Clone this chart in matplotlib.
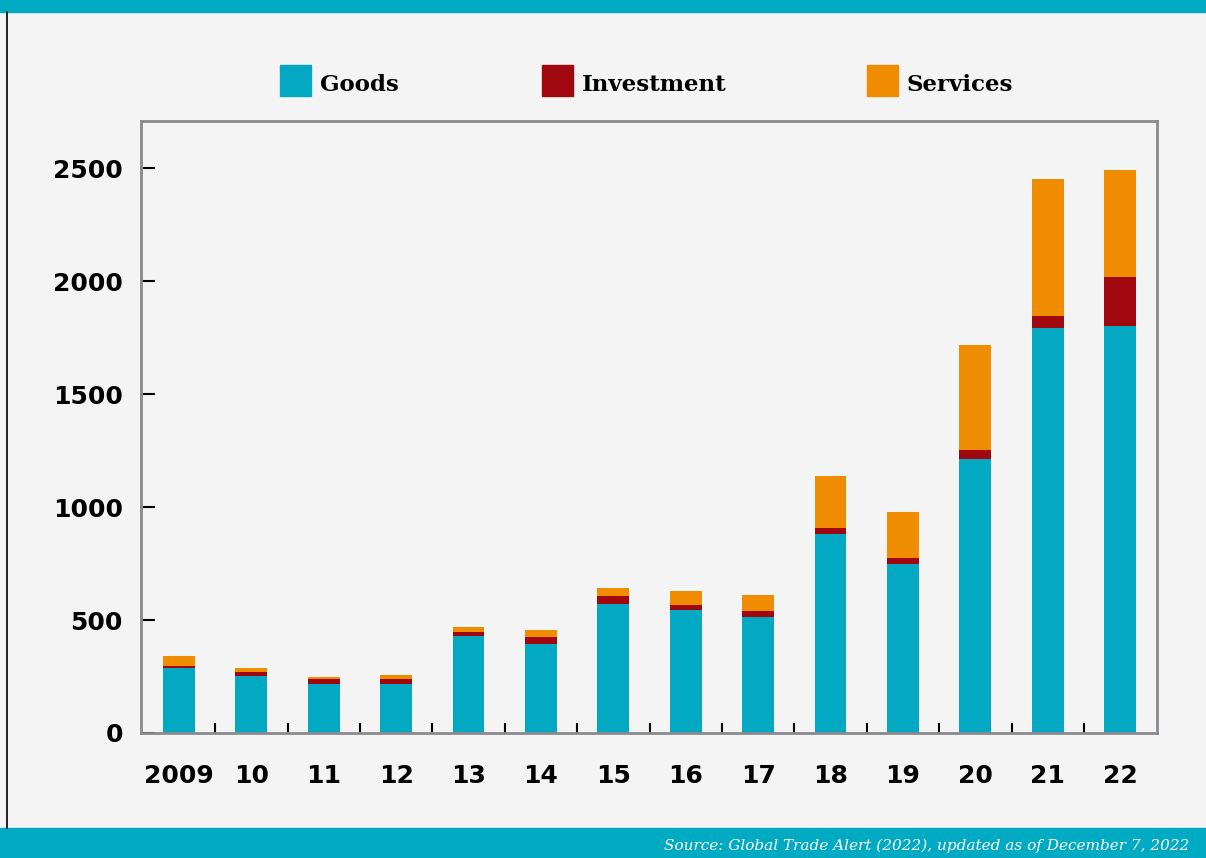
import matplotlib.pyplot as plt
import numpy as np
from matplotlib.patches import Rectangle
from matplotlib.lines import Line2D

years = ['2009', '10', '11', '12', '13', '14', '15', '16', '17', '18', '19', '20', '21', '22']
goods = [288, 252, 217, 217, 429, 394, 571, 544, 513, 881, 748, 1212, 1792, 1801]
investment = [8, 18, 22, 22, 18, 31, 35, 22, 27, 26, 26, 40, 53, 217]
services = [46, 18, 9, 18, 22, 31, 36, 62, 71, 230, 204, 465, 606, 473]

series_names = ['Goods', 'Investment', 'Services']
series_colors = ['#03a9c3', '#a0070f', '#f08c00']

BG = '#f4f4f4'
TEAL = '#00aac3'

fig = plt.figure(figsize=(12.06, 8.58), dpi=100, facecolor=BG)
ax = fig.add_axes([0.1169, 0.1457, 0.9594 - 0.1169, 0.859 - 0.1457])
ax.set_facecolor(BG)

x = np.arange(len(years))
bottom = np.zeros(len(years))
for vals, name, col in zip([goods, investment, services], series_names, series_colors):
    ax.bar(x, vals, width=0.44, bottom=bottom, color=col, label=name, zorder=2)
    bottom += np.array(vals)

ax.set_xlim(-0.525, 13.51)
ax.set_ylim(0, 2710)

# spines
for s in ax.spines.values():
    s.set_color('#8a8a8e')
    s.set_linewidth(2)

# y ticks: inward, black
ax.set_yticks([0, 500, 1000, 1500, 2000, 2500])
ax.tick_params(axis='y', direction='in', length=10, width=1.5, color='black',
               pad=13, labelsize=18)
for lab in ax.get_yticklabels():
    lab.set_fontweight('bold')

# x ticks: labels at bar centers, small inward minor ticks between bars
ax.set_xticks(x)
ax.set_xticklabels(years, fontsize=18, fontweight='bold')
ax.tick_params(axis='x', which='major', length=0, pad=22)
ax.set_xticks(np.arange(0.5, len(years) - 1, 1.0), minor=True)
ax.tick_params(axis='x', which='minor', direction='in', length=7, width=1.5, color='black')
ax.tick_params(axis='y', which='minor', left=False)

# legend drawn manually at the top
leg_sq_x = [280, 542, 867]
W, H = 1206.0, 858.0
for px, name, col in zip(leg_sq_x, series_names, series_colors):
    fig.patches.append(Rectangle((px / W, 1 - 96 / H), 31 / W, 31 / H,
                                 transform=fig.transFigure, color=col))
    fig.text((px + 40) / W, 1 - 85 / H, name, fontsize=16.5, fontweight='bold',
             family='DejaVu Serif', va='center', ha='left')

# top and bottom bands, left border
fig.patches.append(Rectangle((0, 1 - 12 / H), 1, 12 / H, transform=fig.transFigure,
                             color=TEAL, zorder=0))
fig.patches.append(Rectangle((0, 0), 1, 30 / H, transform=fig.transFigure,
                             color=TEAL, zorder=0))
fig.lines.append(Line2D([7 / W, 7 / W], [30 / H, 1 - 12 / H], transform=fig.transFigure,
                        color='black', linewidth=1.2))

fig.text(1189 / W, 1 - 846 / H, 'Source: Global Trade Alert (2022), updated as of December 7, 2022',
         color='white', fontsize=11, style='italic', family='DejaVu Serif',
         ha='right', va='center')

fig.savefig('out.png', dpi=100, facecolor=BG)
